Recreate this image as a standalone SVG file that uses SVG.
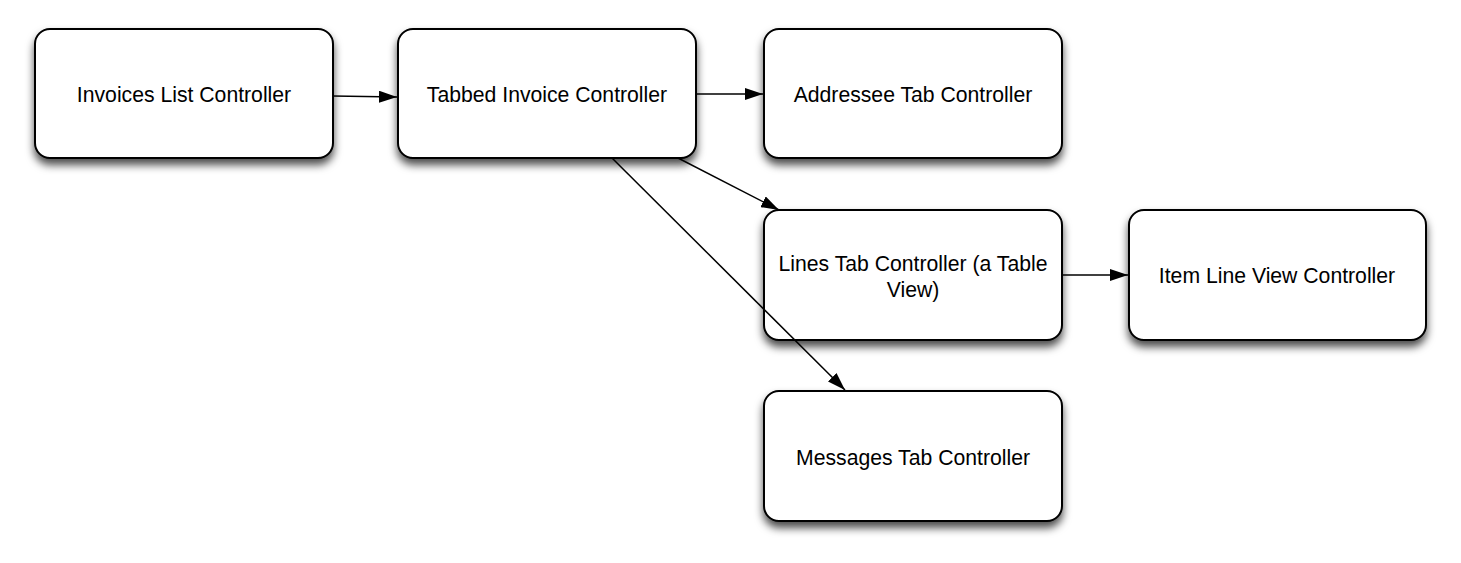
<svg xmlns="http://www.w3.org/2000/svg" width="1461" height="563" viewBox="0 0 1461 563">
<style>
.box{fill:#fff;stroke:#000;stroke-width:2;filter:url(#sh)}
.lbl{font-family:"Liberation Sans",Arial,sans-serif;font-size:21.2px;fill:#000;text-anchor:middle;dominant-baseline:central}
.edge{stroke:#000;stroke-width:1.5;fill:none;marker-end:url(#ah)}
</style>
<defs>
<filter id="sh" x="-10%" y="-10%" width="120%" height="135%">
<feDropShadow dx="0" dy="6" stdDeviation="4.5" flood-color="#000" flood-opacity="0.7"/>
</filter>
<marker id="ah" viewBox="0 0 18 12" refX="18" refY="6" markerWidth="18" markerHeight="12" markerUnits="userSpaceOnUse" orient="auto">
<path d="M0,0 L18,6 L0,12 Z" fill="#000"/>
</marker>
</defs>
<g id="invoices-list">
<rect class="box" x="35" y="29" width="298" height="129" rx="15"/>
<text class="lbl" x="184" y="94">Invoices List Controller</text>
</g>
<g id="tabbed-invoice">
<rect class="box" x="398" y="29" width="298" height="129" rx="15"/>
<text class="lbl" x="547" y="94">Tabbed Invoice Controller</text>
</g>
<g id="addressee-tab">
<rect class="box" x="764" y="29" width="298" height="129" rx="15"/>
<text class="lbl" x="913" y="94">Addressee Tab Controller</text>
</g>
<g id="lines-tab">
<rect class="box" x="764" y="210" width="298" height="130" rx="15"/>
<text class="lbl" x="913" y="263">Lines Tab Controller (a Table</text>
<text class="lbl" x="913" y="289">View)</text>
</g>
<g id="item-line-view">
<rect class="box" x="1129" y="210" width="297" height="130" rx="15"/>
<text class="lbl" x="1277" y="275">Item Line View Controller</text>
</g>
<g id="messages-tab">
<rect class="box" x="764" y="391" width="298" height="130" rx="15"/>
<text class="lbl" x="913" y="457">Messages Tab Controller</text>
</g>
<g id="connectors">
<line class="edge" x1="333" y1="96" x2="397" y2="97"/>
<line class="edge" x1="696" y1="94" x2="763" y2="94"/>
<line class="edge" x1="678" y1="158" x2="779" y2="210"/>
<line class="edge" x1="612" y1="158" x2="845" y2="390"/>
<line class="edge" x1="1062" y1="275" x2="1128" y2="275"/>
</g>
</svg>
